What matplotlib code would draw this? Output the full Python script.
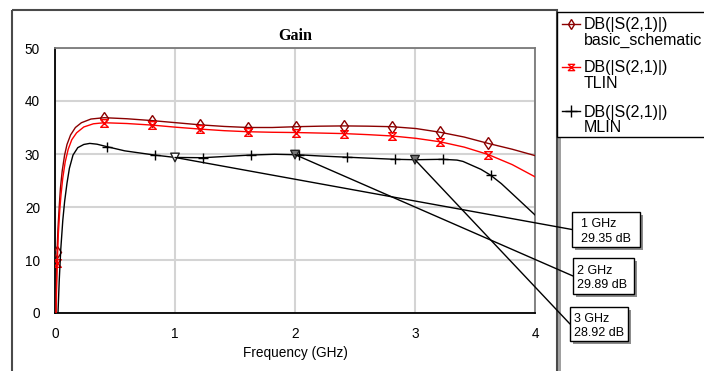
import matplotlib
matplotlib.use("Agg")
import matplotlib.pyplot as plt
from matplotlib.patches import Rectangle, ConnectionPatch
from matplotlib.path import Path
from matplotlib.lines import Line2D

plt.rcParams['font.family'] = ['Liberation Sans', 'DejaVu Sans']

# ---------------- data ----------------
bs_freq = [0.008, 0.012, 0.017, 0.025, 0.035, 0.045, 0.06, 0.08, 0.10, 0.13, 0.17, 0.22,
           0.30, 0.41, 0.60, 0.81, 1.01, 1.21, 1.41, 1.61, 1.81, 2.01, 2.21, 2.41, 2.61,
           2.81, 3.01, 3.21, 3.41, 3.61, 3.81, 4.0]
bs_gain = [0.0, 6.0, 11.5, 16.0, 20.0, 23.5, 26.8, 29.8, 31.8, 33.6, 35.0, 35.9,
           36.6, 36.85, 36.65, 36.3, 35.9, 35.5, 35.2, 35.0, 35.0, 35.15, 35.25, 35.3, 35.25,
           35.15, 34.8, 34.1, 33.2, 32.0, 30.9, 29.7]
bs_marks = [0.017, 0.41, 0.81, 1.21, 1.61, 2.01, 2.41, 2.81, 3.21, 3.61]

tl_freq = [0.009, 0.014, 0.019, 0.028, 0.04, 0.05, 0.065, 0.085, 0.11, 0.14, 0.18, 0.24,
           0.32, 0.41, 0.60, 0.81, 1.01, 1.21, 1.41, 1.61, 1.81, 2.01, 2.21, 2.41, 2.61,
           2.81, 3.01, 3.21, 3.41, 3.61, 3.81, 4.0]
tl_gain = [0.0, 5.5, 9.4, 15.0, 19.5, 22.3, 25.5, 28.5, 30.9, 32.7, 34.0, 35.1,
           35.7, 35.9, 35.75, 35.45, 35.05, 34.7, 34.4, 34.2, 34.1, 34.05, 33.95, 33.85, 33.65,
           33.4, 32.95, 32.3, 31.3, 29.9, 28.0, 25.7]
tl_marks = [0.019, 0.41, 0.81, 1.21, 1.61, 2.01, 2.41, 2.81, 3.21, 3.61]

ml_freq = [0.025, 0.035, 0.048, 0.065, 0.08, 0.10, 0.12, 0.15, 0.19, 0.24, 0.29, 0.35,
           0.43, 0.58, 0.83, 1.0, 1.23, 1.43, 1.63, 1.83, 2.03, 2.23, 2.43, 2.63, 2.83,
           3.0, 3.23, 3.35, 3.40, 3.46, 3.55, 3.63, 3.72, 3.82, 3.91, 4.0]
ml_gain = [0.0, 6.0, 12.0, 17.5, 21.0, 24.5, 27.3, 29.8, 31.2, 31.8, 32.0, 31.85,
           31.4, 30.6, 29.8, 29.35, 29.3, 29.55, 29.8, 29.95, 29.85, 29.6, 29.4, 29.2, 29.0,
           28.92, 29.0, 28.85, 28.6, 28.0, 27.1, 26.0, 24.4, 22.3, 20.4, 18.5]
ml_marks = [0.43, 0.83, 1.23, 1.63, 2.03, 2.43, 2.83, 3.23, 3.63]

marker_freq = [1.0, 2.0, 3.0]
marker_gain = [29.35, 29.89, 28.92]
marker_labels = ["1 GHz\n29.35 dB", "2 GHz\n29.89 dB", "3 GHz\n28.92 dB"]

x_ticks = [0, 1, 2, 3, 4]
y_ticks = [0, 10, 20, 30, 40, 50]
series_names = ["DB(|S(2,1)|)\nbasic_schematic", "DB(|S(2,1)|)\nTLIN", "DB(|S(2,1)|)\nMLIN"]
title = "Gain"
x_label = "Frequency (GHz)"

# ---------------- figure ----------------
W, H = 704, 371
fig = plt.figure(figsize=(W / 100, H / 100), dpi=100)
fig.patch.set_facecolor('white')

ax = fig.add_axes([55 / W, 1 - 313 / H, 480 / W, 265 / H])
ax.set_xlim(0, 4)
ax.set_ylim(0, 50)
ax.set_xticks(x_ticks)
ax.set_yticks(y_ticks)
ax.grid(True, color='#d4d4d4', lw=1.5)
ax.set_axisbelow(True)
ax.tick_params(axis='both', length=0, labelsize=9.8)
ax.tick_params(axis='x', pad=10)
ax.tick_params(axis='y', pad=10.8)
for s in ['left', 'bottom']:
    ax.spines[s].set_color('black')
    ax.spines[s].set_linewidth(1.3)
for s in ['top', 'right']:
    ax.spines[s].set_color('#7a7a7a')
    ax.spines[s].set_linewidth(1.3)

hourglass = Path([(-1, 1), (1, 1), (-1, -1), (1, -1), (-1, 1)],
                 [Path.MOVETO, Path.LINETO, Path.LINETO, Path.LINETO, Path.CLOSEPOLY])

c_bs, c_tl, c_ml = '#8b0000', '#ff0000', '#000000'

ax.plot(bs_freq, bs_gain, color=c_bs, lw=1.0, marker='d', ms=6.5, mfc='none', mec=c_bs,
        mew=1.0, markevery=[bs_freq.index(f) for f in bs_marks], zorder=3)
ax.plot(tl_freq, tl_gain, color=c_tl, lw=1.0, marker=hourglass, ms=5.5, mfc='none', mec=c_tl,
        mew=1.0, markevery=[tl_freq.index(f) for f in tl_marks], zorder=3)
ax.plot(ml_freq, ml_gain, color=c_ml, lw=1.0, marker='+', ms=7, mec=c_ml,
        mew=1.0, markevery=[ml_freq.index(f) for f in ml_marks], zorder=3)

ax.scatter(marker_freq, marker_gain, marker='v', s=38, facecolors=['white', '#777777', '#777777'],
           edgecolors='#222222', linewidths=1.0, zorder=4)

ax.set_xlabel(x_label, fontsize=9.8)
ax.xaxis.label.set_verticalalignment('baseline')
ax.xaxis.set_label_coords(0.5, -(356.5 - 313) / 265)

# ---------------- overlay in pixel coords ----------------
ov = fig.add_axes([0, 0, 1, 1], zorder=5)
ov.set_xlim(0, W)
ov.set_ylim(H, 0)
ov.axis('off')

ov.text(295, 40, title, ha='center', va='baseline', fontsize=11.6, fontweight='bold',
        family=['Liberation Serif', 'DejaVu Serif'])

# outer frame
ov.add_patch(Rectangle((12, 10), 545, 400, fill=False, ec='#4a4a4a', lw=1.5, clip_on=False))
ov.add_patch(Rectangle((557.5, 137), 3.5, 260, fc='#a0a0a0', ec='none', clip_on=False))

# legend
ov.add_patch(Rectangle((557, 12), 170, 125, fc='white', ec='black', lw=1.0, clip_on=False))
leg_base = [29, 72, 116.5]
leg_style = [dict(color=c_bs, marker='d', ms=5.5, mfc='none', mec=c_bs),
             dict(color=c_tl, marker=hourglass, ms=4.5, mfc='none', mec=c_tl),
             dict(color=c_ml, marker='+', ms=8, mec=c_ml)]
for name, yb, st in zip(series_names, leg_base, leg_style):
    ln = Line2D([562, 571, 580], [yb - 5.5] * 3, lw=1.0, markevery=[1], mew=1.0, **st)
    ov.add_line(ln)
    l1, l2 = name.split('\n')
    ov.text(584, yb, l1, ha='left', va='baseline', fontsize=11.5)
    ov.text(584, yb + 15.5, l2, ha='left', va='baseline', fontsize=11.5)

# marker readout boxes
boxes = [(572, 212, 68, 35, 581), (573, 258, 61, 36, 577), (570, 307, 58, 34, 574)]
for (bx, by, bw, bh, tx), lab, f, g in zip(boxes, marker_labels, marker_freq, marker_gain):
    ov.add_patch(Rectangle((bx + 2.5, by + 2.5), bw, bh, fc='#8c8c8c', ec='none', zorder=2))
    ov.add_patch(Rectangle((bx, by), bw, bh, fc='white', ec='black', lw=1.0, zorder=3))
    l1, l2 = lab.split('\n')
    cy = by + bh / 2
    ov.text(tx, cy - 2.5, l1, ha='left', va='baseline', fontsize=9, zorder=4)
    ov.text(tx, cy + 12, l2, ha='left', va='baseline', fontsize=9, zorder=4)
    con = ConnectionPatch(xyA=(f, g), coordsA=ax.transData, xyB=(bx, cy), coordsB=ov.transData,
                          color='black', lw=1.0, zorder=1)
    ov.add_artist(con)

fig.savefig('out.png', dpi=100)
